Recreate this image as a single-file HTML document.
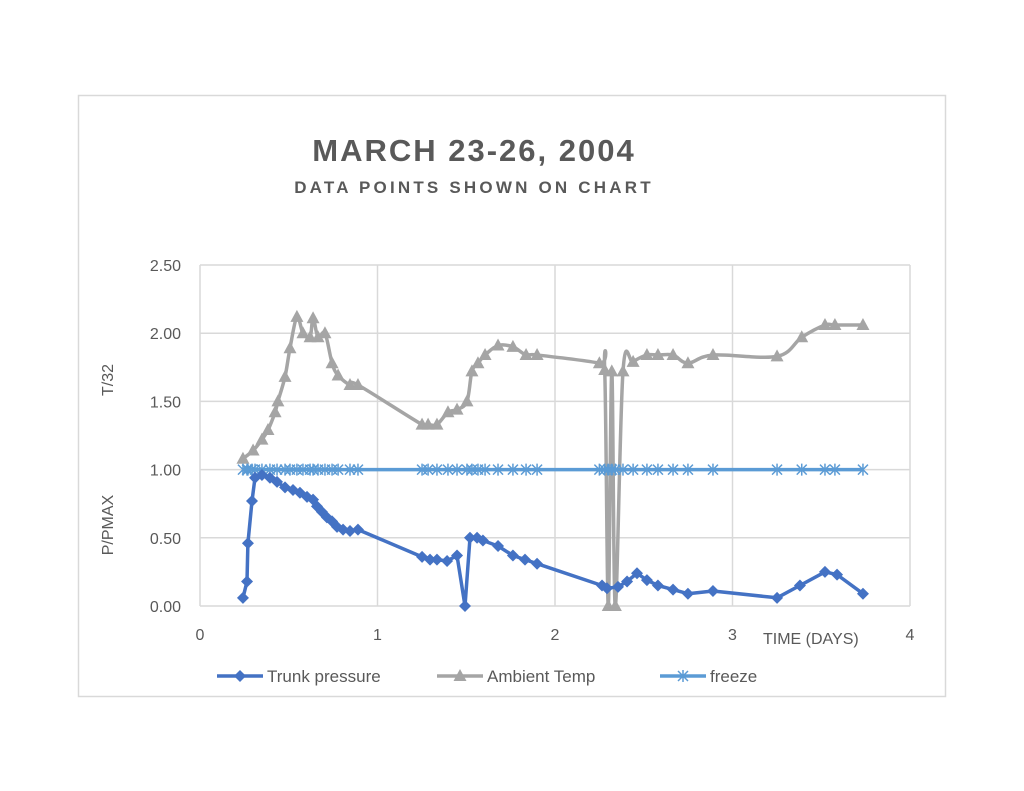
<!DOCTYPE html>
<html><head><meta charset="utf-8">
<style>
html,body{margin:0;padding:0;background:#fff;width:1024px;height:791px;overflow:hidden;font-family:"Liberation Sans",sans-serif;}
</style></head>
<body>
<svg id="chart" width="1024" height="791" viewBox="0 0 1024 791" xmlns="http://www.w3.org/2000/svg">
<rect x="78.5" y="95.5" width="867" height="601" fill="#fff" stroke="#d9d9d9" stroke-width="1.5"/>
<text x="474" y="161" text-anchor="middle" font-family="Liberation Sans, sans-serif" font-weight="bold" font-size="31" letter-spacing="2" fill="#595959">MARCH 23-26, 2004</text>
<text x="474" y="193" text-anchor="middle" font-family="Liberation Sans, sans-serif" font-weight="bold" font-size="17" letter-spacing="3.2" fill="#595959">DATA POINTS SHOWN ON CHART</text>
<g id="grid"></g>
<g id="axes"></g>
<g id="series"></g>
<text x="763" y="644" font-family="Liberation Sans Narrow, Liberation Sans, sans-serif" font-size="16" fill="#595959">TIME  (DAYS)</text>
<text transform="translate(113,380) rotate(-90)" text-anchor="middle" font-family="Liberation Sans Narrow, Liberation Sans, sans-serif" font-size="16" fill="#595959">T/32</text>
<text transform="translate(113,525) rotate(-90)" text-anchor="middle" font-family="Liberation Sans Narrow, Liberation Sans, sans-serif" font-size="16" fill="#595959">P/PMAX</text>
<g id="legend"></g>
</svg>
<script>
const xTicks=[0,1,2,3,4];
const yTicks=[0,0.5,1,1.5,2,2.5];
const yTickLabels=["0.00","0.50","1.00","1.50","2.00","2.50"];
const pressX=[0.242,0.265,0.270,0.293,0.310,0.349,0.394,0.434,0.479,0.524,0.563,0.603,0.637,0.659,0.687,0.715,0.744,0.772,0.806,0.845,0.890,1.251,1.296,1.335,1.392,1.448,1.493,1.521,1.561,1.594,1.679,1.763,1.831,1.899,2.265,2.293,2.355,2.406,2.462,2.518,2.580,2.665,2.749,2.890,3.251,3.380,3.521,3.589,3.735];
const pressY=[0.06,0.18,0.46,0.77,0.94,0.96,0.94,0.91,0.87,0.85,0.83,0.80,0.78,0.73,0.69,0.65,0.62,0.58,0.56,0.55,0.56,0.36,0.34,0.34,0.33,0.37,0.0,0.50,0.50,0.48,0.44,0.37,0.34,0.31,0.15,0.13,0.14,0.18,0.24,0.19,0.15,0.12,0.09,0.11,0.06,0.15,0.25,0.23,0.09];
const tempX=[0.242,0.299,0.349,0.383,0.423,0.439,0.479,0.507,0.546,0.580,0.620,0.637,0.665,0.704,0.744,0.778,0.845,0.890,1.251,1.285,1.335,1.397,1.448,1.504,1.532,1.566,1.606,1.679,1.763,1.837,1.899,2.250,2.280,2.300,2.320,2.340,2.383,2.440,2.518,2.580,2.665,2.749,2.890,3.251,3.390,3.521,3.577,3.735];
const tempY=[1.08,1.14,1.22,1.29,1.42,1.50,1.68,1.89,2.12,2.00,1.97,2.11,1.97,2.00,1.78,1.69,1.62,1.62,1.33,1.33,1.33,1.42,1.44,1.50,1.72,1.78,1.84,1.91,1.90,1.84,1.84,1.78,1.73,0.0,1.72,0.0,1.72,1.79,1.84,1.84,1.84,1.78,1.84,1.83,1.97,2.06,2.06,2.06];
const freezeX=[0.242,0.265,0.270,0.293,0.310,0.349,0.394,0.434,0.479,0.507,0.546,0.580,0.620,0.637,0.665,0.704,0.744,0.778,0.845,0.890,1.251,1.285,1.335,1.397,1.448,1.504,1.532,1.566,1.606,1.679,1.763,1.837,1.899,2.250,2.280,2.300,2.320,2.340,2.383,2.440,2.518,2.580,2.665,2.749,2.890,3.251,3.390,3.521,3.577,3.735];
const freezeY=freezeX.map(()=>1.0);

const NS="http://www.w3.org/2000/svg";
const X0=200,X1=910,Y0=606,Y1=265;
function sx(v){return X0+(v-0)/(4-0)*(X1-X0);}
function sy(v){return Y0-(v-0)/(2.5-0)*(Y0-Y1);}
function mk(tag,attrs,parent){const e=document.createElementNS(NS,tag);for(const k in attrs)e.setAttribute(k,attrs[k]);parent.appendChild(e);return e;}
const grid=document.getElementById('grid'),axes=document.getElementById('axes'),ser=document.getElementById('series'),leg=document.getElementById('legend');
yTicks.forEach((t,i)=>{
 const l=mk('line',{x1:X0,x2:X1,y1:sy(t),y2:sy(t),stroke:'#d9d9d9','stroke-width':1.5},grid);
 
 
 const tx=mk('text',{x:181,y:sy(t)+6,'text-anchor':'end','font-size':16,fill:'#595959','font-family':'Liberation Sans Narrow, Liberation Sans, sans-serif'},axes);
 tx.textContent=yTickLabels[i];
 
 
});
xTicks.forEach(t=>{
 const l=mk('line',{x1:sx(t),x2:sx(t),y1:Y1,y2:Y0,stroke:'#d9d9d9','stroke-width':1.5},grid);
 
 
 const tx=mk('text',{x:sx(t),y:640,'text-anchor':'middle','font-size':16,fill:'#595959','font-family':'Liberation Sans Narrow, Liberation Sans, sans-serif'},axes);
 tx.textContent=String(t);
 
 
});
function linePath(xs,ys){return xs.map((x,i)=>(i?'L':'M')+sx(x).toFixed(1)+','+sy(ys[i]).toFixed(1)).join('');}
function smoothPath(xs,ys){const p=xs.map((x,i)=>[sx(x),sy(ys[i])]);let d='M'+p[0][0]+','+p[0][1];
 for(let i=0;i<p.length-1;i++){const a=p[i-1]||p[i],b=p[i],c=p[i+1],e=p[i+2]||c;const t=1/6;
 d+='C'+(b[0]+(c[0]-a[0])*t).toFixed(1)+','+(b[1]+(c[1]-a[1])*t).toFixed(1)+' '+(c[0]-(e[0]-b[0])*t).toFixed(1)+','+(c[1]-(e[1]-b[1])*t).toFixed(1)+' '+c[0].toFixed(1)+','+c[1].toFixed(1);}
 return d;}
function diamond(g,x,y,c){return mk('path',{d:`M${x},${y-6}L${x+6},${y}L${x},${y+6}L${x-6},${y}Z`,fill:c},g);}
function tri(g,x,y,c){return mk('path',{d:`M${x},${y-7}L${x+6.5},${y+5}L${x-6.5},${y+5}Z`,fill:c},g);}
function star(g,x,y,c){return mk('path',{d:`M${x-5},${y-5}L${x+5},${y+5}M${x-5},${y+5}L${x+5},${y-5}M${x},${y-6}L${x},${y+6}`,stroke:c,'stroke-width':1.5,fill:'none'},g);}

const cT='#a5a5a5',cP='#4472c4',cF='#5b9bd5';
// ambient
const gT=mk('g',{},ser);
const pT=mk('path',{d:smoothPath(tempX,tempY),stroke:cT,'stroke-width':3.5,fill:'none','stroke-linejoin':'round'},gT);


tempX.forEach((x,i)=>{const m=tri(gT,sx(x),sy(tempY[i]),cT);
 
 });
// freeze
const gF=mk('g',{},ser);
const pF=mk('path',{d:linePath(freezeX,freezeY),stroke:cF,'stroke-width':3.5,fill:'none'},gF);


freezeX.forEach((x,i)=>{const m=star(gF,sx(x),sy(freezeY[i]),cF);
 
 });
// pressure
const gP=mk('g',{},ser);
const pP=mk('path',{d:linePath(pressX,pressY),stroke:cP,'stroke-width':3.5,fill:'none','stroke-linejoin':'round'},gP);


pressX.forEach((x,i)=>{const m=diamond(gP,sx(x),sy(pressY[i]),cP);
 
 });

// legend
const legItems=[["Trunk pressure",cP,diamond,217,'legend-trunk-pressure'],["Ambient Temp",cT,tri,437,'legend-ambient-temp'],["freeze",cF,star,660,'legend-freeze']];
legItems.forEach(it=>{const g=mk('g',{},leg);
 
 
 mk('line',{x1:it[3],x2:it[3]+46,y1:676,y2:676,stroke:it[1],'stroke-width':3.5},g);
 it[2](g,it[3]+23,676,it[1]);
 const t=mk('text',{x:it[3]+50,y:682,'font-size':17,fill:'#595959','font-family':'Liberation Sans Narrow, Liberation Sans, sans-serif'},g);
 t.textContent=it[0];});
</script>
</body></html>
